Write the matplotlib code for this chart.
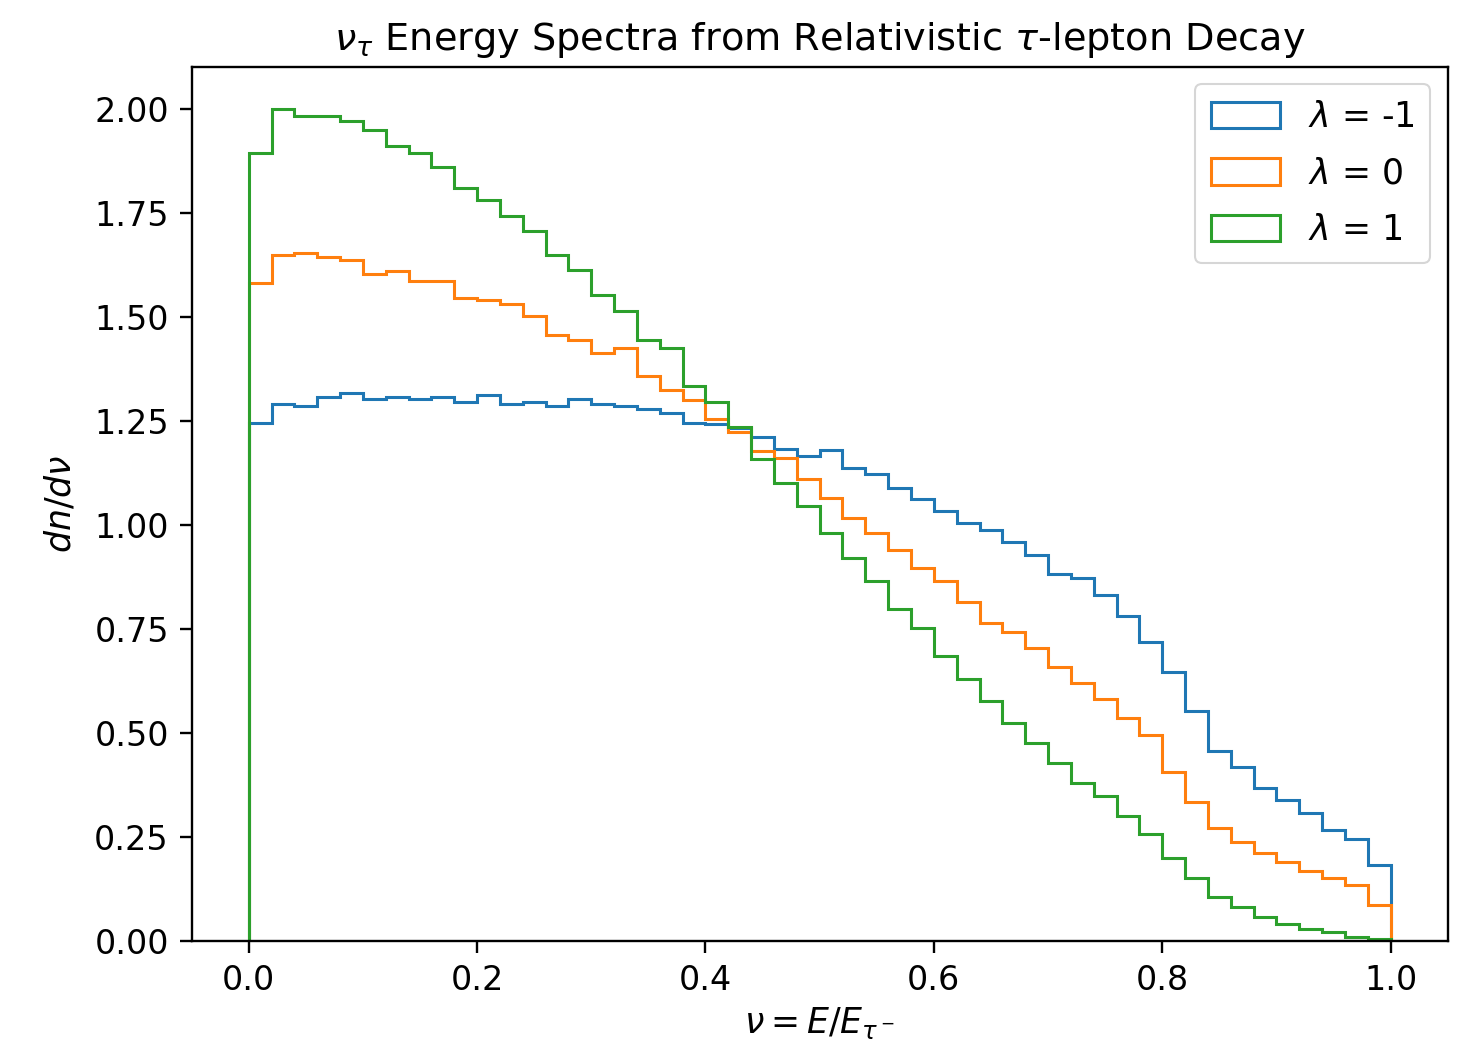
import numpy as np
import matplotlib
matplotlib.use("Agg")
import matplotlib.pyplot as plt

bin_edges = np.linspace(0.0, 1.0, 51)

lam_m1 = [1.245, 1.289, 1.285, 1.307, 1.317, 1.301, 1.307, 1.301, 1.307, 1.295,
          1.312, 1.291, 1.295, 1.285, 1.301, 1.291, 1.285, 1.279, 1.269, 1.245,
          1.241, 1.233, 1.211, 1.181, 1.165, 1.179, 1.137, 1.121, 1.087, 1.061,
          1.032, 1.004, 0.987, 0.959, 0.927, 0.881, 0.871, 0.831, 0.780, 0.718,
          0.647, 0.553, 0.457, 0.418, 0.367, 0.339, 0.307, 0.265, 0.244, 0.181]

lam_0 = [1.581, 1.647, 1.653, 1.643, 1.635, 1.603, 1.609, 1.585, 1.585, 1.545,
         1.541, 1.531, 1.501, 1.455, 1.445, 1.413, 1.425, 1.357, 1.323, 1.300,
         1.255, 1.223, 1.177, 1.161, 1.109, 1.065, 1.016, 0.980, 0.938, 0.896,
         0.865, 0.815, 0.763, 0.741, 0.704, 0.659, 0.620, 0.580, 0.535, 0.495,
         0.405, 0.334, 0.271, 0.238, 0.212, 0.188, 0.168, 0.151, 0.133, 0.086]

lam_p1 = [1.894, 2.000, 1.983, 1.983, 1.970, 1.949, 1.909, 1.894, 1.859, 1.809,
          1.781, 1.741, 1.707, 1.647, 1.611, 1.553, 1.513, 1.445, 1.425, 1.334,
          1.295, 1.235, 1.157, 1.099, 1.044, 0.981, 0.921, 0.864, 0.797, 0.752,
          0.685, 0.629, 0.576, 0.524, 0.475, 0.428, 0.379, 0.347, 0.300, 0.256,
          0.200, 0.151, 0.105, 0.082, 0.056, 0.040, 0.028, 0.020, 0.010, 0.004]

series = [lam_m1, lam_0, lam_p1]
labels = [r"$\lambda$ = -1", r"$\lambda$ = 0", r"$\lambda$ = 1"]
colors = ["#1f77b4", "#ff7f0e", "#2ca02c"]

plt.rcParams["font.family"] = "DejaVu Sans"
plt.rcParams["mathtext.fontset"] = "dejavusans"

fig = plt.figure(figsize=(14.79, 10.59), dpi=100)
ax = fig.add_axes([0.1296, 0.1117, 0.8492, 0.825])

centers = 0.5 * (bin_edges[:-1] + bin_edges[1:])
for vals, lab, col in zip(series, labels, colors):
    ax.hist(centers, bins=bin_edges, weights=vals, histtype="step",
            color=col, linewidth=2.2, label=lab)

ax.set_ylim(0, 2.1)
ax.set_xlim(-0.05, 1.05)
ax.set_yticks([0.0, 0.25, 0.5, 0.75, 1.0, 1.25, 1.5, 1.75, 2.0])
ax.set_xticks([0.0, 0.2, 0.4, 0.6, 0.8, 1.0])

for s in ax.spines.values():
    s.set_linewidth(1.7)
ax.tick_params(labelsize=24, length=8.5, width=1.7, pad=8)

ax.set_xlabel(r"$\nu = E/E_{\tau^-}$", fontsize=25, labelpad=6)
ax.set_ylabel(r"$dn/d\nu$", fontsize=25, labelpad=12)
ax.set_title(r"$\nu_\tau$ Energy Spectra from Relativistic $\tau$-lepton Decay",
             fontsize=27.5, pad=12)

leg = ax.legend(loc="upper right", fontsize=25, handlelength=2.0,
                handleheight=0.8, borderpad=0.45, labelspacing=0.65,
                handletextpad=0.8, borderaxespad=0.5)
leg.get_frame().set_linewidth(1.5)

fig.savefig("out.png", dpi=100)
